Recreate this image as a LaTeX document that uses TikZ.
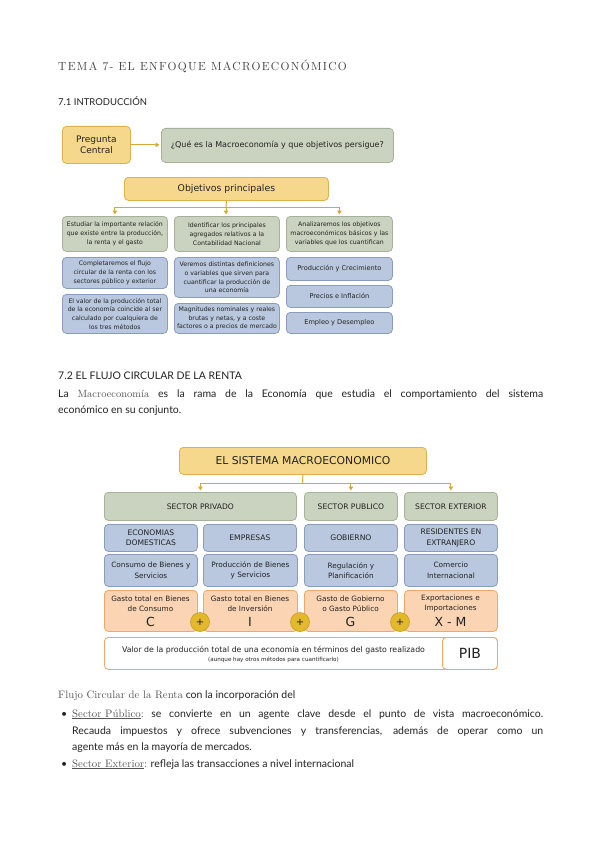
\documentclass[tikz,border=0pt]{standalone}
\usepackage{fontspec}
\usetikzlibrary{arrows.meta}
\newfontfamily\hand{Lato}
\newfontfamily\bxf{DejaVu Sans}
\newfontfamily\ttlf[LetterSpace=11.5]{Latin Modern Roman}
\definecolor{yfill}{HTML}{F6D88C}
\definecolor{ydraw}{HTML}{DDB24E}
\definecolor{gfill}{HTML}{C9D3BF}
\definecolor{gdraw}{HTML}{A5B198}
\definecolor{bfill}{HTML}{B9C8DE}
\definecolor{bdraw}{HTML}{8A9CBD}
\definecolor{ofill}{HTML}{FBD5B3}
\definecolor{odraw}{HTML}{F1A766}
\definecolor{arrc}{HTML}{D6A73A}
\definecolor{pfill}{HTML}{E3B92B}
\definecolor{pdraw}{HTML}{C49B1D}
\definecolor{txt}{HTML}{222222}
\definecolor{ttl}{HTML}{3A3A3A}
\definecolor{srf}{HTML}{555555}
\begin{document}
\begin{tikzpicture}[x=1pt,y=-1pt,
  box/.style={draw, rounded corners=4pt, line width=0.8pt, inner sep=1pt, align=center, anchor=north west, text=txt, font=\bxf\fontsize{6.2}{8.8}\selectfont},
  ybox/.style={box, fill=yfill, draw=ydraw},
  gbox/.style={box, fill=gfill, draw=gdraw},
  bbox/.style={box, fill=bfill, draw=bdraw},
  obox/.style={box, fill=ofill, draw=odraw},
  wbox/.style={box, fill=white, draw=odraw},
  capf/.style={font=\bxf\fontsize{7.6}{10.2}\selectfont},
  midf/.style={font=\bxf\fontsize{7.3}{10.5}\selectfont},
  arr/.style={draw=arrc, line width=1pt, -{Triangle[length=4pt,width=4.5pt]}, shorten >=1.5pt},
  ln/.style={draw=arrc, line width=1pt},
  plus/.style={circle, fill=pfill, draw=pdraw, line width=0.6pt, minimum size=19pt, inner sep=0pt, text=txt, font=\bxf\fontsize{10}{10}\selectfont},
  lbl/.style={inner sep=0pt, text=txt, align=center, font=\bxf\fontsize{7.3}{10}\selectfont},
  big/.style={inner sep=0pt, text=txt, font=\bxf\fontsize{12.5}{12.5}\selectfont},
  htxt/.style={inner sep=0pt, anchor=base west, text=txt, font=\hand\fontsize{10.5}{13}\selectfont}
]
\useasboundingbox (0,0) rectangle (599,848);
\fill[white] (0,0) rectangle (599,848);

% ---------- headings ----------
\node[inner sep=0pt, anchor=base west, text=ttl, font=\ttlf\fontsize{11.7}{14}\selectfont] (title) at (58,71) {TEMA 7- EL ENFOQUE MACROECONÓMICO};
\node[htxt, font=\hand\fontsize{9.5}{12}\selectfont] (h71) at (58,106) {7.1 INTRODUCCIÓN};

% ---------- diagram 1 ----------
\node[ybox, minimum width=68pt, minimum height=37pt, font=\bxf\fontsize{9}{11}\selectfont] (preg) at (62,126) {Pregunta\\Central};
\node[gbox, minimum width=232pt, minimum height=34pt, font=\bxf\fontsize{8}{9.5}\selectfont] (ques) at (161,128) {¿Qué es la Macroeconomía y que objetivos persigue?};
\draw[arr] (preg.east) -- (preg.east -| ques.west);

\node[ybox, minimum width=204pt, minimum height=23pt, font=\bxf\fontsize{9.3}{11}\selectfont] (obj) at (124,177) {Objetivos principales};

\node[gbox, minimum width=105pt, minimum height=35pt] (g1) at (62,216) {Estudiar la importante relación\\que existe entre la producción,\\la renta y el gasto};
\node[gbox, minimum width=105pt, minimum height=35pt] (g2) at (174,216) {Identificar los principales\\agregados relativos a la\\Contabilidad Nacional};
\node[gbox, minimum width=106pt, minimum height=35pt] (g3) at (286,216) {Analizaremos los objetivos\\macroeconómicos básicos y las\\variables que los cuantifican};

\coordinate (j1) at (226,207);
\draw[ln] (obj.south) -- (j1);
\draw[arr] (j1) -| (g1.north);
\draw[arr] (j1) -- (j1 |- g2.north);
\draw[arr] (j1) -| (g3.north);

\node[bbox, minimum width=105pt, minimum height=31pt] (b11) at (62,257) {Completaremos el flujo\\circular de la renta con los\\sectores público y exterior};
\node[bbox, minimum width=105pt, minimum height=39pt] (b12) at (62,294) {El valor de la producción total\\de la economía coincide al ser\\calculado por cualquiera de\\los tres métodos};
\node[bbox, minimum width=105pt, minimum height=40pt] (b21) at (174,257) {Veremos distintas definiciones\\o variables que sirven para\\cuantificar la producción de\\una economía};
\node[bbox, minimum width=105pt, minimum height=30pt] (b22) at (174,303) {Magnitudes nominales y reales\\brutas y netas, y a coste\\factores o a precios de mercado};
\node[bbox, minimum width=106pt, minimum height=23pt, font=\bxf\fontsize{6.6}{8.8}\selectfont] (b31) at (286,257) {Producción y Crecimiento};
\node[bbox, minimum width=106pt, minimum height=22pt, font=\bxf\fontsize{6.6}{8.8}\selectfont] (b32) at (286,285) {Precios e Inflación};
\node[bbox, minimum width=106pt, minimum height=21pt, font=\bxf\fontsize{6.6}{8.8}\selectfont] (b33) at (286,312) {Empleo y Desempleo};

% ---------- section 7.2 text ----------
\node[htxt] (h72) at (58,379) {7.2 EL FLUJO CIRCULAR DE LA RENTA};
\node[htxt] (p1) at (58,397) {\makebox[485pt][s]{La {\rmfamily\color{srf}Macroeconomía} es la rama de la Economía que estudia el comportamiento del sistema}};
\node[htxt] (p2) at (58,413) {económico en su conjunto.};

% ---------- diagram 2 ----------
\node[ybox, minimum width=247pt, minimum height=27pt, font=\bxf\fontsize{10.8}{12}\selectfont] (sys) at (179,447) {EL SISTEMA MACROECONOMICO};

\node[gbox, capf, minimum width=192pt, minimum height=28pt] (spr) at (104,492) {SECTOR PRIVADO};
\node[gbox, capf, minimum width=93pt, minimum height=28pt] (spu) at (304,492) {SECTOR PUBLICO};
\node[gbox, capf, minimum width=93pt, minimum height=28pt] (sex) at (404,492) {SECTOR EXTERIOR};

\coordinate (j2) at (302.5,483);
\draw[ln] (sys.south) -- (j2);
\draw[arr] (j2) -| (spr.north);
\draw[arr] (j2) -| (spu.north);
\draw[arr] (j2) -| (sex.north);

\node[bbox, capf, minimum width=93pt, minimum height=27pt] (r11) at (104,524) {ECONOMIAS\\DOMESTICAS};
\node[bbox, capf, minimum width=93pt, minimum height=27pt] (r12) at (203,524) {EMPRESAS};
\node[bbox, capf, minimum width=93pt, minimum height=27pt] (r13) at (304,524) {GOBIERNO};
\node[bbox, capf, minimum width=93pt, minimum height=27pt] (r14) at (404,524) {RESIDENTES EN\\EXTRANJERO};

\node[bbox, midf, minimum width=93pt, minimum height=32pt] (r21) at (104,554) {Consumo de Bienes y\\Servicios};
\node[bbox, midf, minimum width=94pt, minimum height=32pt] (r22) at (203,554) {Producción de Bienes\\y Servicios};
\node[bbox, midf, minimum width=93pt, minimum height=32pt] (r23) at (304,554) {Regulación y\\Planificación};
\node[bbox, midf, minimum width=93pt, minimum height=32pt] (r24) at (404,554) {Comercio\\Internacional};

\node[obox, minimum width=93pt, minimum height=41pt] (o1) at (104,590) {};
\node[obox, minimum width=94pt, minimum height=41pt] (o2) at (203,590) {};
\node[obox, minimum width=93pt, minimum height=41pt] (o3) at (304,590) {};
\node[obox, minimum width=93pt, minimum height=41pt] (o4) at (404,590) {};

\node[lbl] (t1) at (150.5,603.5) {Gasto total en Bienes\\de Consumo};
\node[lbl] (t2) at (250,603.5) {Gasto total en Bienes\\de Inversión};
\node[lbl] (t3) at (350.5,603.5) {Gasto de Gobierno\\o Gasto Público};
\node[lbl] (t4) at (450.5,603.5) {Exportaciones e\\Importaciones};
\node[big] (c1) at (150.5,622) {C};
\node[big] (c2) at (250,622) {I};
\node[big] (c3) at (350.5,622) {G};
\node[big] (c4) at (450.5,622) {X - M};

\node[plus] (pl1) at (200,622) {+};
\node[plus] (pl2) at (300,622) {+};
\node[plus] (pl3) at (400,622) {+};

\node[wbox, minimum width=393pt, minimum height=32pt] (pibrow) at (104,637) {};
\node[wbox, minimum width=55pt, minimum height=32pt, font=\bxf\fontsize{14}{14}\selectfont] (pib) at (442,637) {PIB};
\node[inner sep=0pt, anchor=base, text=txt, font=\bxf\fontsize{7.8}{9}\selectfont] (pt1) at (273.5,652) {Valor de la producción total de una economía en términos del gasto realizado};
\node[inner sep=0pt, anchor=base, text=txt, font=\bxf\fontsize{5.6}{7}\selectfont] (pt2) at (273.5,661) {(aunque hay otros métodos para cuantificarlo)};

% ---------- bottom text ----------
\node[htxt] (f0) at (58,698) {{\rmfamily\color{srf}\fontsize{10.8}{13}\selectfont Flujo Circular de la Renta} con la incorporación del};
\node[htxt] (bu1) at (61,717) {•};
\node[htxt] (f1) at (72,717) {\makebox[471pt][s]{{\rmfamily\color{srf}\fontsize{10.8}{13}\selectfont\underline{Sector Público}:}\ se convierte en un agente clave desde el punto de vista macroeconómico.}};
\node[htxt] (f2) at (72,734) {\makebox[471pt][s]{Recauda impuestos y ofrece subvenciones y transferencias, además de operar como un}};
\node[htxt] (f3) at (72,750) {agente más en la mayoría de mercados.};
\node[htxt] (bu2) at (61,767) {•};
\node[htxt] (f4) at (72,767) {{\rmfamily\color{srf}\fontsize{10.8}{13}\selectfont\underline{Sector Exterior}:} refleja las transacciones a nivel internacional};
\end{tikzpicture}
\end{document}
